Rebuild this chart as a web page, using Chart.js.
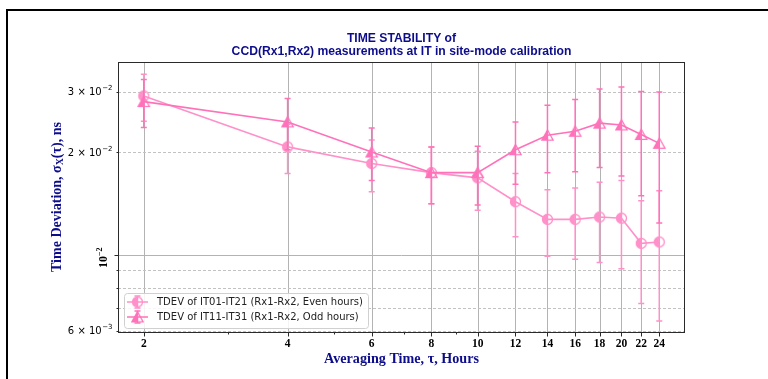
<!DOCTYPE html>
<html>
<head>
<meta charset="utf-8">
<script src="https://cdn.jsdelivr.net/npm/chart.js@4.4.1/dist/chart.umd.min.js"></script>
<style>
  html, body { margin: 0; padding: 0; background: #ffffff; }
  canvas { display: block; }
</style>
</head>
<body>
<canvas id="tdev" width="768" height="379"></canvas>
<script>
// Averaging times (hours) and TDEV values (ns) with their 1-sigma errors
const tauHours = [2, 4, 6, 8, 10, 12, 14, 16, 18, 20, 22, 24];
const tdevEven = [0.0292, 0.0207, 0.0185, 0.0174, 0.0168, 0.0143, 0.0127, 0.0127, 0.0129, 0.0128, 0.0108, 0.0109];
const errEven  = [0.0046, 0.0034, 0.0032, 0.0033, 0.0033, 0.0030, 0.0028, 0.0030, 0.0034, 0.0037, 0.0036, 0.0045];
const tdevOdd  = [0.0281, 0.0245, 0.0200, 0.0174, 0.0174, 0.0203, 0.0224, 0.0230, 0.0243, 0.0240, 0.0225, 0.0212];
const errOdd   = [0.0045, 0.0042, 0.0035, 0.0033, 0.0034, 0.0042, 0.0050, 0.0055, 0.0063, 0.0070, 0.0076, 0.0088];

// Axis ticks
const xMajorTicks = [2, 4, 6, 8, 10, 12, 14, 16, 18, 20, 22, 24];
const xMinorTicks = [3, 5, 7, 9];
const yMajorTicks = [0.01];
const yMinorTicks = [0.006, 0.007, 0.008, 0.009, 0.02, 0.03];
const yMinorLabels = [[0.03, '3', '\u22122'], [0.02, '2', '\u22122'], [0.006, '6', '\u22123']];

const seriesLabels = ['TDEV of IT01-IT21 (Rx1-Rx2, Even hours)', 'TDEV of IT11-IT31 (Rx1-Rx2, Odd hours)'];
const titleLines = ['TIME STABILITY of', 'CCD(Rx1,Rx2) measurements at IT in site-mode calibration'];
const xTitle = 'Averaging Time, \u03c4, Hours';

const evenColor = '#ff90c9';
const oddColor = '#ff72ba';
const navy = '#0d0d8c';

// Half-filled (left) markers
function makeMarker(shape, color) {
  const c = document.createElement('canvas');
  c.width = 15; c.height = 15;
  const g = c.getContext('2d');
  const cx = 7.5, cy = 7.5;
  const path = () => {
    g.beginPath();
    if (shape === 'circle') {
      g.arc(cx, cy, 5, 0, Math.PI * 2);
    } else {
      g.moveTo(cx, cy - 5.2);
      g.lineTo(cx + 5.6, cy + 4.8);
      g.lineTo(cx - 5.6, cy + 4.8);
      g.closePath();
    }
  };
  g.save();
  g.beginPath(); g.rect(0, 0, cx, 15); g.clip();
  path(); g.fillStyle = color; g.fill();
  g.restore();
  path(); g.lineWidth = 1.3; g.strokeStyle = color; g.stroke();
  return c;
}
const circleMarker = makeMarker('circle', evenColor);
const triangleMarker = makeMarker('triangle', oddColor);

const errorSets = [errEven, errOdd];

function fitSize(g, text, weight, family, target) {
  g.font = weight + ' 20px ' + family;
  return 20 * target / g.measureText(text).width;
}

const decorPlugin = {
  id: 'tdevDecor',
  beforeDatasetsDraw(chart) {
    const g = chart.ctx;
    const a = chart.chartArea;
    const xs = chart.scales.x, ys = chart.scales.y;
    g.save();
    g.lineWidth = 1;
    // vertical grid at major x ticks
    g.strokeStyle = '#b3b3b3';
    xMajorTicks.forEach(v => {
      const px = Math.round(xs.getPixelForValue(v)) + 0.5;
      g.beginPath(); g.moveTo(px, a.top); g.lineTo(px, a.bottom); g.stroke();
    });
    // major y grid
    yMajorTicks.forEach(v => {
      const py = Math.round(ys.getPixelForValue(v)) + 0.5;
      g.beginPath(); g.moveTo(a.left, py); g.lineTo(a.right, py); g.stroke();
    });
    // minor y grid (dashed)
    g.strokeStyle = '#c2c2c2';
    g.setLineDash([3, 2]);
    yMinorTicks.forEach(v => {
      const py = Math.round(ys.getPixelForValue(v)) + 0.5;
      g.beginPath(); g.moveTo(a.left, py); g.lineTo(a.right, py); g.stroke();
    });
    g.restore();
  },
  afterDatasetDraw(chart, args) {
    const g = chart.ctx;
    const xs = chart.scales.x, ys = chart.scales.y;
    const ds = chart.data.datasets[args.index];
    const errs = errorSets[args.index];
    g.save();
    g.strokeStyle = ds.borderColor;
    g.lineWidth = 1.5;
    ds.data.forEach((p, i) => {
      const px = xs.getPixelForValue(p.x);
      const yTop = ys.getPixelForValue(p.y + errs[i]);
      const yBot = ys.getPixelForValue(p.y - errs[i]);
      g.beginPath();
      g.moveTo(px, yTop); g.lineTo(px, yBot);
      g.moveTo(px - 3, yTop); g.lineTo(px + 3, yTop);
      g.moveTo(px - 3, yBot); g.lineTo(px + 3, yBot);
      g.stroke();
    });
    g.restore();
  },
  afterDatasetsDraw(chart) {
    const g = chart.ctx;
    const a = chart.chartArea;
    const xs = chart.scales.x, ys = chart.scales.y;
    g.save();

    // axes frame
    g.strokeStyle = '#2a2a2a';
    g.lineWidth = 1;
    g.strokeRect(Math.round(a.left) + 0.5, Math.round(a.top) + 0.5,
                 Math.round(a.right - a.left) - 1, Math.round(a.bottom - a.top));

    // tick marks
    const bottom = Math.round(a.bottom) + 0.5;
    g.beginPath();
    xMajorTicks.forEach(v => {
      const px = Math.round(xs.getPixelForValue(v)) + 0.5;
      g.moveTo(px, bottom); g.lineTo(px, bottom + 4);
    });
    xMinorTicks.forEach(v => {
      const px = Math.round(xs.getPixelForValue(v)) + 0.5;
      g.moveTo(px, bottom); g.lineTo(px, bottom + 2);
    });
    const left = Math.round(a.left) + 0.5;
    yMajorTicks.forEach(v => {
      const py = Math.round(ys.getPixelForValue(v)) + 0.5;
      g.moveTo(left, py); g.lineTo(left - 4, py);
    });
    yMinorTicks.forEach(v => {
      const py = Math.round(ys.getPixelForValue(v)) + 0.5;
      g.moveTo(left, py); g.lineTo(left - 2, py);
    });
    g.stroke();

    // x tick labels
    g.fillStyle = '#000';
    g.font = 'bold 11.5px "Liberation Serif", serif';
    g.textAlign = 'center';
    g.textBaseline = 'middle';
    xMajorTicks.forEach(v => {
      g.fillText(String(v), xs.getPixelForValue(v), a.bottom + 12);
    });

    // y minor tick labels: m × 10^e
    g.textAlign = 'left';
    g.textBaseline = 'alphabetic';
    yMinorLabels.forEach(([v, m, e]) => {
      const py = ys.getPixelForValue(v);
      const base = m + ' \u00d7 10';
      g.font = '10px "DejaVu Sans", sans-serif';
      const wb = g.measureText(base).width;
      g.font = '7px "DejaVu Sans", sans-serif';
      const we = g.measureText(e).width;
      const x0 = a.left - 6 - wb - we;
      g.font = '10px "DejaVu Sans", sans-serif';
      g.fillText(base, x0, py + 3.5);
      g.font = '7px "DejaVu Sans", sans-serif';
      g.fillText(e, x0 + wb + 0.5, py - 1.5);
    });

    // y major tick label (rotated)
    yMajorTicks.forEach(v => {
      const py = ys.getPixelForValue(v);
      g.save();
      g.translate(a.left - 11, py + 3);
      g.rotate(-Math.PI / 2);
      g.font = 'bold 12px "Liberation Serif", serif';
      const wb = g.measureText('10').width;
      g.font = 'bold 8px "Liberation Serif", serif';
      const we = g.measureText('\u22122').width;
      const x0 = -(wb + we) / 2;
      g.font = 'bold 12px "Liberation Serif", serif';
      g.fillText('10', x0, 0);
      g.font = 'bold 8px "Liberation Serif", serif';
      g.fillText('\u22122', x0 + wb, -5);
      g.restore();
    });

    // title
    const cx = (a.left + a.right) / 2;
    g.fillStyle = navy;
    g.textAlign = 'center';
    g.textBaseline = 'middle';
    const tSize = fitSize(g, titleLines[1], 'bold', '"Liberation Sans", Arial, sans-serif', 340);
    g.font = 'bold ' + tSize.toFixed(2) + 'px "Liberation Sans", Arial, sans-serif';
    g.fillText(titleLines[0], cx, 39);
    g.fillText(titleLines[1], cx, 51.5);

    // x axis title
    const xtSize = fitSize(g, xTitle, 'bold', '"Liberation Serif", serif', 155);
    g.font = 'bold ' + xtSize.toFixed(2) + 'px "Liberation Serif", serif';
    g.fillText(xTitle, cx, 359);

    // y axis title with subscript X
    g.save();
    g.translate(57, (a.top + a.bottom) / 2);
    g.rotate(-Math.PI / 2);
    g.textAlign = 'left';
    g.textBaseline = 'middle';
    const parts = [['Time Deviation, \u03c3', 1, 0], ['X', 0.7, 3], ['(\u03c4), ns', 1, 0]];
    const S = 14;
    let total = 0;
    parts.forEach(([t, f]) => {
      g.font = 'bold ' + (S * f) + 'px "Liberation Serif", serif';
      total += g.measureText(t).width;
    });
    const k = 150 / total;
    let px = -75;
    parts.forEach(([t, f, dy]) => {
      g.font = 'bold ' + (S * f * k).toFixed(2) + 'px "Liberation Serif", serif';
      g.fillText(t, px, dy);
      px += g.measureText(t).width;
    });
    g.restore();

    // legend
    const lx = 124, ly = 293, lw = 244, lh = 35;
    g.fillStyle = 'rgba(255,255,255,0.85)';
    g.strokeStyle = '#d0d0d0';
    g.lineWidth = 1;
    g.beginPath();
    g.roundRect(lx + 0.5, ly + 0.5, lw, lh, 3);
    g.fill(); g.stroke();
    const markers = [circleMarker, triangleMarker];
    const colors = [evenColor, oddColor];
    const lSize = fitSize(g, seriesLabels[0], 'normal', '"DejaVu Sans", sans-serif', 206);
    [302, 317].forEach((ry, i) => {
      g.strokeStyle = colors[i];
      g.lineWidth = 1.5;
      g.beginPath();
      g.moveTo(127, ry); g.lineTo(148, ry);
      g.moveTo(137.5, ry - 6); g.lineTo(137.5, ry + 6);
      g.moveTo(134.5, ry - 6); g.lineTo(140.5, ry - 6);
      g.moveTo(134.5, ry + 6); g.lineTo(140.5, ry + 6);
      g.stroke();
      g.drawImage(markers[i], 137.5 - 7.5, ry - 7.5);
      g.fillStyle = '#222';
      g.font = lSize.toFixed(2) + 'px "DejaVu Sans", sans-serif';
      g.textAlign = 'left';
      g.textBaseline = 'middle';
      g.fillText(seriesLabels[i], 157, ry + 0.5);
    });

    g.restore();
  },
  afterDraw(chart) {
    // figure frame (left and top edges)
    const g = chart.ctx;
    g.save();
    g.fillStyle = '#000';
    g.fillRect(6, 9, 762, 2);
    g.fillRect(6, 9, 2, 370);
    g.restore();
  }
};

new Chart(document.getElementById('tdev'), {
  type: 'line',
  data: {
    datasets: [
      {
        label: seriesLabels[0],
        data: tauHours.map((t, i) => ({ x: t, y: tdevEven[i] })),
        borderColor: evenColor,
        backgroundColor: evenColor,
        borderWidth: 1.6,
        pointStyle: circleMarker,
        pointRadius: 5,
        tension: 0,
        order: 2
      },
      {
        label: seriesLabels[1],
        data: tauHours.map((t, i) => ({ x: t, y: tdevOdd[i] })),
        borderColor: oddColor,
        backgroundColor: oddColor,
        borderWidth: 1.6,
        pointStyle: triangleMarker,
        pointRadius: 5,
        tension: 0,
        order: 1
      }
    ]
  },
  options: {
    responsive: false,
    animation: false,
    devicePixelRatio: 1,
    layout: { padding: { left: 0, right: 83, top: 62, bottom: 0 } },
    plugins: { legend: { display: false }, tooltip: { enabled: false }, title: { display: false } },
    scales: {
      x: {
        type: 'logarithmic', min: 1.766, max: 27.17, bounds: 'data',
        ticks: { display: false }, grid: { display: false }, border: { display: false },
        afterFit(s) { s.height = 47; }
      },
      y: {
        type: 'logarithmic', min: 0.00594, max: 0.0367, bounds: 'data',
        ticks: { display: false }, grid: { display: false }, border: { display: false },
        afterFit(s) { s.width = 118; }
      }
    }
  },
  plugins: [decorPlugin]
});
</script>
</body>
</html>
